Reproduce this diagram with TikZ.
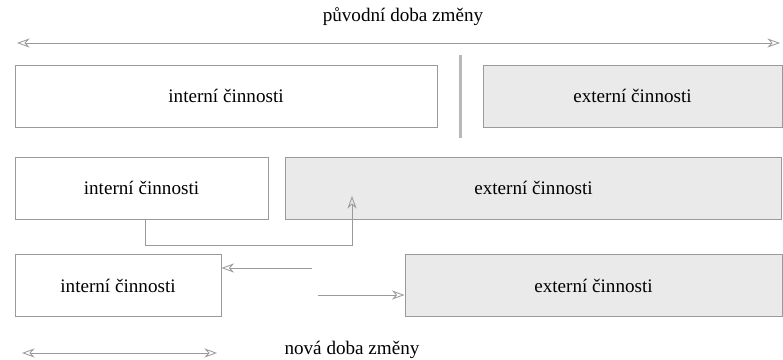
\documentclass[tikz,border=0pt]{standalone}
\usepackage{fontspec}
\setmainfont{Liberation Serif}
\usetikzlibrary{arrows.meta}
\usepackage{xcolor}
\definecolor{boxline}{HTML}{9A9A9A}
\definecolor{extfill}{HTML}{EAEAEA}
\definecolor{barfill}{HTML}{B8B8B8}

\begin{document}
\begin{tikzpicture}[x=0.025cm,y=-0.025cm,font=\fontsize{13.6}{16}\selectfont,
  intbox/.style={draw=boxline,line width=0.6pt,minimum height=1.55cm,inner sep=0pt},
  extbox/.style={intbox,fill=extfill},
  flow/.style={draw=boxline,line width=0.6pt,-{Stealth[open,length=9pt,width=6.5pt]}},
  span/.style={flow,{Stealth[open,length=9pt,width=6.5pt]}-{Stealth[open,length=9pt,width=6.5pt]}}]
\useasboundingbox (0,0) rectangle (783,360);
\node (oldtime) at (403,17) {původní doba změny};
\coordinate (oldL) at (17,43);
\coordinate (oldR) at (780,43);
\draw[span] (oldL) -- (oldR);
\node[intbox,minimum width=10.55cm] (int1) at (226,96) {interní činnosti};
\coordinate (barT) at (460,55);
\coordinate (barB) at (460,138);
\draw[barfill,line width=0.075cm] (barT) -- (barB);
\node[extbox,minimum width=7.475cm] (ext1) at (632.5,96) {externí činnosti};
\node[intbox,minimum width=6.325cm] (int2) at (141.5,188) {interní činnosti};
\node[extbox,minimum width=12.4cm] (ext2) at (533.5,188) {externí činnosti};
\coordinate (up) at (352,196);
\draw[flow] ([xshift=0.11cm]int2.south) |- (352,245) -- (up);
\node[intbox,minimum width=5.15cm] (int3) at (118,285.5) {interní činnosti};
\node[extbox,minimum width=9.425cm] (ext3) at (593.5,285.5) {externí činnosti};
\coordinate (back) at (312,268);
\coordinate (fwd) at (318,295);
\draw[flow] (back) -- (back -| int3.east);
\draw[flow] (fwd) -- (fwd -| ext3.west);
\coordinate (newL) at (22,353);
\coordinate (newR) at (217,353);
\draw[span] (newL) -- (newR);
\node (newtime) at (352,350) {nová doba změny};
\end{tikzpicture}
\end{document}
